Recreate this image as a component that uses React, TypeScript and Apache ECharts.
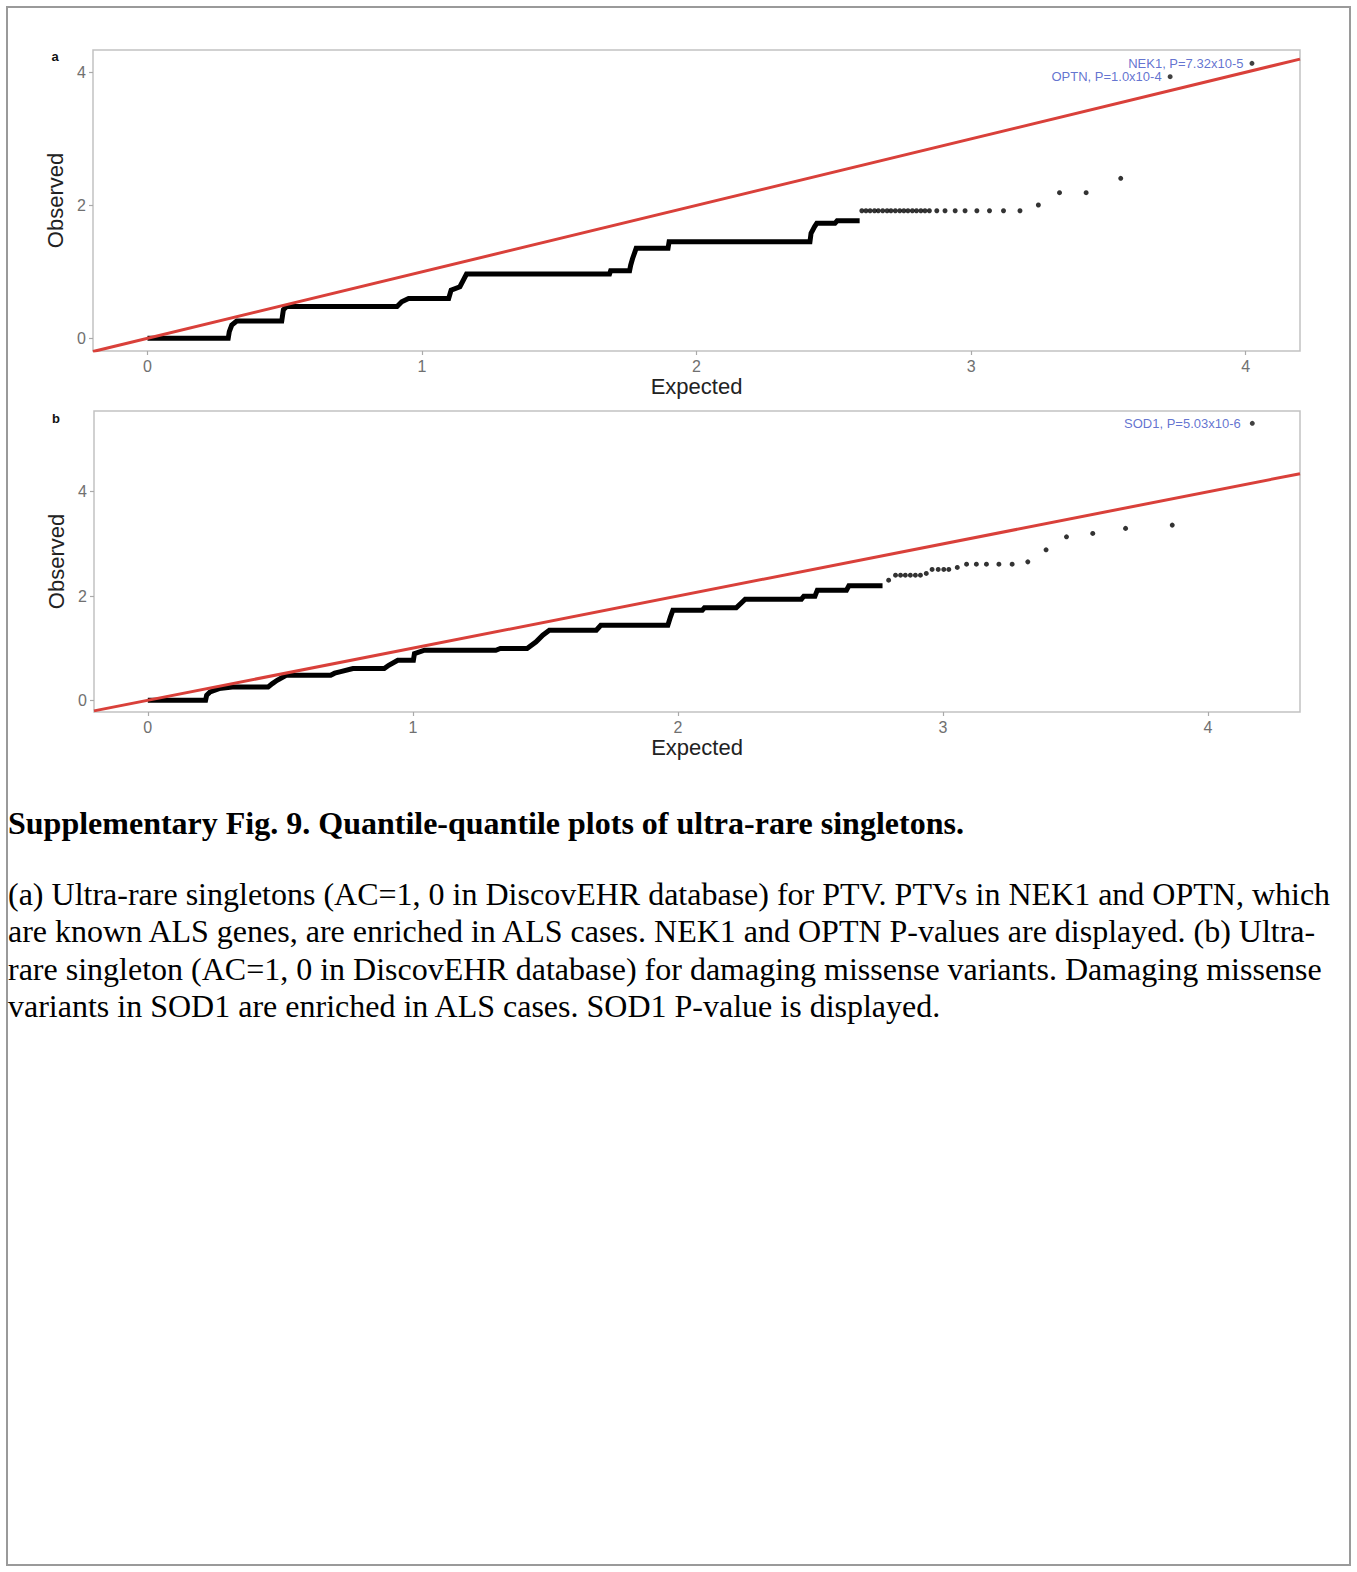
import React, { useEffect, useRef } from "react";
import * as echarts from "echarts";

// ---------- data ----------
const X_TICKS = [0, 1, 2, 3, 4];
const Y_TICKS = [0, 2, 4];

// panel a: dense quantile staircase (expected, observed)
const A_STEPS: number[][] = [
  [0, 0], [0.294, 0], [0.298, 0.1], [0.307, 0.2], [0.325, 0.26], [0.489, 0.26],
  [0.495, 0.43], [0.507, 0.48], [0.909, 0.48], [0.926, 0.55], [0.951, 0.6],
  [1.097, 0.6], [1.106, 0.726], [1.138, 0.776], [1.162, 0.967], [1.683, 0.967],
  [1.687, 1.017], [1.756, 1.017], [1.76, 1.1], [1.767, 1.2], [1.78, 1.353],
  [1.896, 1.353], [1.9, 1.453], [2.413, 1.453], [2.417, 1.58], [2.43, 1.68],
  [2.438, 1.73], [2.504, 1.73], [2.512, 1.768], [2.594, 1.768],
];
// panel a: individual points in the upper tail
const A_TAIL: number[][] = [
  [2.602, 1.919], [2.617, 1.919], [2.632, 1.919], [2.648, 1.919], [2.662, 1.919],
  [2.678, 1.919], [2.694, 1.919], [2.708, 1.919], [2.724, 1.919], [2.74, 1.919],
  [2.755, 1.919], [2.77, 1.919], [2.786, 1.919], [2.801, 1.919], [2.817, 1.919],
  [2.832, 1.919], [2.848, 1.919], [2.875, 1.919], [2.905, 1.919], [2.942, 1.919],
  [2.978, 1.919], [3.021, 1.919], [3.067, 1.919], [3.118, 1.919], [3.178, 1.919],
  [3.245, 2.005], [3.322, 2.19], [3.419, 2.19], [3.545, 2.406],
];
const A_GENE_LABELS = ["NEK1, P=7.32x10-5", "OPTN, P=1.0x10-4"];
const A_GENE_POINTS: number[][] = [[4.023, 4.135], [3.725, 3.934]];

// panel b
const B_STEPS: number[][] = [
  [0, 0], [0.218, 0], [0.222, 0.096], [0.235, 0.16], [0.269, 0.224], [0.319, 0.256],
  [0.454, 0.256], [0.47, 0.32], [0.488, 0.384], [0.522, 0.48], [0.69, 0.48],
  [0.705, 0.52], [0.724, 0.544], [0.774, 0.608], [0.892, 0.608], [0.909, 0.672],
  [0.943, 0.768], [1.002, 0.768], [1.006, 0.896], [1.044, 0.96], [1.313, 0.96],
  [1.33, 0.993], [1.431, 0.993], [1.465, 1.12], [1.49, 1.248], [1.515, 1.344],
  [1.692, 1.344], [1.709, 1.44], [1.962, 1.44], [1.972, 1.6], [1.981, 1.728],
  [2.092, 1.728], [2.1, 1.773], [2.22, 1.773], [2.24, 1.87], [2.254, 1.94],
  [2.466, 1.94], [2.475, 1.997], [2.517, 1.997], [2.526, 2.112], [2.636, 2.112],
  [2.645, 2.195], [2.772, 2.195],
];
const B_TAIL: number[][] = [
  [2.795, 2.304], [2.821, 2.4], [2.84, 2.4], [2.858, 2.4], [2.877, 2.4], [2.896, 2.4],
  [2.915, 2.4], [2.937, 2.433], [2.959, 2.51], [2.982, 2.51], [3.003, 2.51],
  [3.022, 2.51], [3.054, 2.548], [3.089, 2.611], [3.126, 2.611], [3.164, 2.611],
  [3.211, 2.611], [3.261, 2.611], [3.32, 2.655], [3.389, 2.886], [3.466, 3.136],
  [3.565, 3.2], [3.689, 3.297], [3.865, 3.36],
];
const B_GENE_LABELS = ["SOD1, P=5.03x10-6"];
const B_GENE_POINTS: number[][] = [[4.167, 5.313]];

// axis ranges
const A_X_RANGE = [-0.1985, 4.198];
const A_Y_RANGE = [-0.19, 4.335];
const B_X_RANGE = [-0.203, 4.347];
const B_Y_RANGE = [-0.225, 5.549];

const CAPTION_TITLE =
  "Supplementary Fig. 9. Quantile-quantile plots of ultra-rare singletons.";
const CAPTION_LINES = [
  "(a) Ultra-rare singletons (AC=1, 0 in DiscovEHR database) for PTV. PTVs in NEK1 and OPTN, which",
  "are known ALS genes, are enriched in ALS cases. NEK1 and OPTN P-values are displayed. (b) Ultra-",
  "rare singleton (AC=1, 0 in DiscovEHR database) for damaging missense variants. Damaging missense",
  "variants in SOD1 are enriched in ALS cases. SOD1 P-value is displayed.",
];

// ---------- style ----------
const SANS = "'Liberation Sans', Arial, Helvetica, sans-serif";
const SERIF = "'Liberation Serif', 'Times New Roman', serif";
const RED = "#d9403a";
const LABEL_BLUE = "#3a4fc4";

function makeXAxis(gridIndex: number, range: number[]) {
  return {
    type: "value",
    gridIndex,
    position: "bottom",
    min: range[0],
    max: range[1],
    name: "Expected",
    nameLocation: "middle",
    nameGap: 24,
    nameTextStyle: { fontSize: 22, color: "#222", fontFamily: SANS },
    axisLine: { show: false, onZero: false },
    axisTick: {
      show: true,
      customValues: X_TICKS,
      length: 4,
      lineStyle: { color: "#aaa", width: 1.2 },
    },
    axisLabel: {
      customValues: X_TICKS,
      fontSize: 16,
      color: "#707070",
      margin: 7,
      fontFamily: SANS,
    },
    splitLine: { show: false },
  };
}

function makeYAxis(gridIndex: number, range: number[]) {
  return {
    type: "value",
    gridIndex,
    position: "left",
    min: range[0],
    max: range[1],
    name: "Observed",
    nameLocation: "middle",
    nameGap: 18,
    nameTextStyle: { fontSize: 22, color: "#222", fontFamily: SANS },
    axisLine: { show: false, onZero: false },
    axisTick: {
      show: true,
      customValues: Y_TICKS,
      length: 4,
      lineStyle: { color: "#aaa", width: 1.2 },
    },
    axisLabel: {
      customValues: Y_TICKS,
      fontSize: 16,
      color: "#707070",
      margin: 7,
      fontFamily: SANS,
    },
    splitLine: { show: false },
  };
}

function panelSeries(
  idx: number,
  steps: number[][],
  tail: number[][],
  labels: string[],
  points: number[][],
  xRange: number[],
  labelDistance: number
) {
  return [
    {
      type: "line",
      xAxisIndex: idx,
      yAxisIndex: idx,
      data: steps,
      symbol: "none",
      lineStyle: { color: "#000", width: 5, join: "miter" },
      z: 2,
      silent: true,
    },
    {
      type: "scatter",
      xAxisIndex: idx,
      yAxisIndex: idx,
      data: tail,
      symbol: "circle",
      symbolSize: 5,
      itemStyle: { color: "#000" },
      z: 2,
      silent: true,
    },
    {
      type: "scatter",
      xAxisIndex: idx,
      yAxisIndex: idx,
      data: points.map((p, i) => ({ name: labels[i], value: p })),
      symbol: "circle",
      symbolSize: 5,
      itemStyle: { color: "#111" },
      label: {
        show: true,
        position: "left",
        distance: labelDistance,
        formatter: "{b}",
        color: LABEL_BLUE,
        fontSize: 13,
        fontFamily: SANS,
      },
      z: 3,
      silent: true,
    },
    {
      type: "line",
      xAxisIndex: idx,
      yAxisIndex: idx,
      data: [
        [xRange[0], xRange[0]],
        [xRange[1], xRange[1]],
      ],
      symbol: "none",
      lineStyle: { color: RED, width: 3 },
      clip: true,
      z: 5,
      silent: true,
    },
  ];
}

export default function App() {
  const ref = useRef<HTMLDivElement>(null);

  useEffect(() => {
    document.body.style.margin = "0";
    document.body.style.overflow = "hidden";
    if (!ref.current) return;
    const chart = echarts.init(ref.current, null, { renderer: "svg" });

    const captionTexts = CAPTION_LINES.map((line, i) => ({
      type: "text",
      x: 8,
      y: 894 + i * 37.3,
      style: {
        text: line,
        fill: "#000",
        font: `32px ${SERIF}`,
        verticalAlign: "middle",
      },
    }));

    const option = {
      animation: false,
      backgroundColor: "#fff",
      textStyle: { fontFamily: SANS },
      grid: [
        {
          left: 93,
          top: 50,
          width: 1207,
          height: 301,
          show: true,
          borderColor: "#c2c2c2",
          borderWidth: 1.5,
          backgroundColor: "#fff",
        },
        {
          left: 94,
          top: 411,
          width: 1206,
          height: 301,
          show: true,
          borderColor: "#c2c2c2",
          borderWidth: 1.5,
          backgroundColor: "#fff",
        },
      ],
      xAxis: [makeXAxis(0, A_X_RANGE), makeXAxis(1, B_X_RANGE)],
      yAxis: [makeYAxis(0, A_Y_RANGE), makeYAxis(1, B_Y_RANGE)],
      series: [
        ...panelSeries(0, A_STEPS, A_TAIL, A_GENE_LABELS, A_GENE_POINTS, A_X_RANGE, 6),
        ...panelSeries(1, B_STEPS, B_TAIL, B_GENE_LABELS, B_GENE_POINTS, B_X_RANGE, 9),
      ],
      graphic: [
        {
          type: "rect",
          shape: { x: 7, y: 7, width: 1343, height: 1558 },
          style: { fill: "none", stroke: "#9a9a9a", lineWidth: 2 },
          silent: true,
        },
        {
          type: "text",
          x: 55,
          y: 56,
          style: {
            text: "a",
            font: `bold 13px ${SANS}`,
            fill: "#111",
            align: "center",
            verticalAlign: "middle",
          },
        },
        {
          type: "text",
          x: 56,
          y: 418,
          style: {
            text: "b",
            font: `bold 13px ${SANS}`,
            fill: "#111",
            align: "center",
            verticalAlign: "middle",
          },
        },
        {
          type: "text",
          x: 8,
          y: 822.5,
          style: {
            text: CAPTION_TITLE,
            fill: "#000",
            font: `bold 32px ${SERIF}`,
            verticalAlign: "middle",
          },
        },
        ...captionTexts,
      ],
    };

    chart.setOption(option as any);
    return () => chart.dispose();
  }, []);

  return <div ref={ref} style={{ width: 1357, height: 1572 }} />;
}
